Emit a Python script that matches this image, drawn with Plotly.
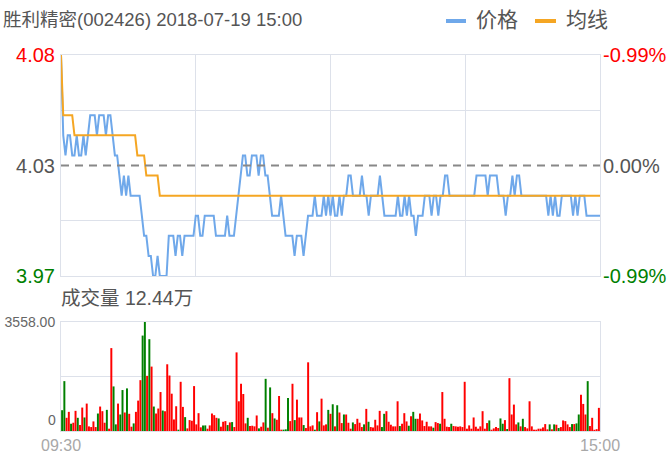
import plotly.graph_objects as go

# ---------------- data ----------------
chart_title = "胜利精密(002426) 2018-07-19 15:00"
volume_title = "成交量 12.44万"
series_names = ["价格", "均线"]
time_labels = ["09:30", "15:00"]

prev_close = 4.025
price_ticks = [3.97, 4.025, 4.08]
price_tick_text = ["3.97", "4.03", "4.08"]
pct_tick_text = ["-0.99%", "0.00%", "-0.99%"]
price_grid = [3.9975, 4.0525]
vol_max = 3558.00

# one value per minute (241 minutes, 09:30-11:30 / 13:00-15:00)
price = [
    4.08, 4.04, 4.03, 4.04, 4.04, 4.03, 4.03, 4.04, 4.03, 4.03,
    4.04, 4.03, 4.04, 4.05, 4.05, 4.05, 4.04, 4.05, 4.05, 4.05,
    4.04, 4.05, 4.05, 4.04, 4.03, 4.03, 4.02, 4.01, 4.02, 4.01,
    4.02, 4.01, 4.01, 4.01, 4.01, 4.01, 4.00, 3.99, 3.99, 3.98,
    3.98, 3.97, 3.97, 3.98, 3.97, 3.97, 3.97, 3.97, 3.99, 3.99,
    3.99, 3.98, 3.99, 3.99, 3.98, 3.99, 3.99, 3.99, 3.99, 3.99,
    4.00, 4.00, 3.99, 3.99, 4.00, 4.00, 4.00, 4.00, 4.00, 3.99,
    3.99, 3.99, 3.99, 3.99, 4.00, 3.99, 3.99, 3.99, 4.00, 4.01,
    4.02, 4.03, 4.03, 4.02, 4.02, 4.03, 4.03, 4.03, 4.02, 4.03,
    4.03, 4.02, 4.02, 4.01, 4.00, 4.00, 4.00, 4.00, 4.01, 4.00,
    3.99, 3.99, 3.99, 3.99, 3.98, 3.99, 3.99, 3.99, 3.98, 3.99,
    4.00, 4.00, 4.00, 4.01, 4.00, 4.00, 4.00, 4.01, 4.00, 4.01,
    4.00, 4.01, 4.00, 4.00, 4.01, 4.00, 4.01, 4.01, 4.02, 4.02,
    4.01, 4.01, 4.01, 4.01, 4.02, 4.01, 4.01, 4.00, 4.01, 4.01,
    4.01, 4.01, 4.02, 4.01, 4.00, 4.00, 4.00, 4.00, 4.00, 4.00,
    4.01, 4.00, 4.00, 4.01, 4.00, 4.01, 4.00, 4.00, 3.99, 4.00,
    4.00, 4.00, 4.01, 4.01, 4.01, 4.00, 4.01, 4.01, 4.00, 4.01,
    4.01, 4.02, 4.02, 4.01, 4.01, 4.01, 4.01, 4.01, 4.01, 4.01,
    4.01, 4.01, 4.01, 4.01, 4.01, 4.02, 4.02, 4.02, 4.02, 4.02,
    4.01, 4.02, 4.02, 4.02, 4.02, 4.01, 4.01, 4.01, 4.00, 4.01,
    4.01, 4.02, 4.01, 4.02, 4.02, 4.01, 4.01, 4.01, 4.01, 4.01,
    4.01, 4.01, 4.01, 4.01, 4.01, 4.01, 4.01, 4.00, 4.01, 4.00,
    4.01, 4.00, 4.00, 4.01, 4.01, 4.01, 4.01, 4.01, 4.00, 4.01,
    4.00, 4.01, 4.01, 4.01, 4.00, 4.00, 4.00, 4.00, 4.00, 4.00,
    4.00,
]

avg_price = [
    4.08, 4.05, 4.05, 4.05, 4.05, 4.05, 4.04, 4.04, 4.04, 4.04,
    4.04, 4.04, 4.04, 4.04, 4.04, 4.04, 4.04, 4.04, 4.04, 4.04,
    4.04, 4.04, 4.04, 4.04, 4.04, 4.04, 4.04, 4.04, 4.04, 4.04,
    4.04, 4.04, 4.04, 4.04, 4.03, 4.03, 4.03, 4.03, 4.02, 4.02,
    4.02, 4.02, 4.02, 4.02, 4.01, 4.01, 4.01, 4.01, 4.01, 4.01,
    4.01, 4.01, 4.01, 4.01, 4.01, 4.01, 4.01, 4.01, 4.01, 4.01,
    4.01, 4.01, 4.01, 4.01, 4.01, 4.01, 4.01, 4.01, 4.01, 4.01,
    4.01, 4.01, 4.01, 4.01, 4.01, 4.01, 4.01, 4.01, 4.01, 4.01,
    4.01, 4.01, 4.01, 4.01, 4.01, 4.01, 4.01, 4.01, 4.01, 4.01,
    4.01, 4.01, 4.01, 4.01, 4.01, 4.01, 4.01, 4.01, 4.01, 4.01,
    4.01, 4.01, 4.01, 4.01, 4.01, 4.01, 4.01, 4.01, 4.01, 4.01,
    4.01, 4.01, 4.01, 4.01, 4.01, 4.01, 4.01, 4.01, 4.01, 4.01,
    4.01, 4.01, 4.01, 4.01, 4.01, 4.01, 4.01, 4.01, 4.01, 4.01,
    4.01, 4.01, 4.01, 4.01, 4.01, 4.01, 4.01, 4.01, 4.01, 4.01,
    4.01, 4.01, 4.01, 4.01, 4.01, 4.01, 4.01, 4.01, 4.01, 4.01,
    4.01, 4.01, 4.01, 4.01, 4.01, 4.01, 4.01, 4.01, 4.01, 4.01,
    4.01, 4.01, 4.01, 4.01, 4.01, 4.01, 4.01, 4.01, 4.01, 4.01,
    4.01, 4.01, 4.01, 4.01, 4.01, 4.01, 4.01, 4.01, 4.01, 4.01,
    4.01, 4.01, 4.01, 4.01, 4.01, 4.01, 4.01, 4.01, 4.01, 4.01,
    4.01, 4.01, 4.01, 4.01, 4.01, 4.01, 4.01, 4.01, 4.01, 4.01,
    4.01, 4.01, 4.01, 4.01, 4.01, 4.01, 4.01, 4.01, 4.01, 4.01,
    4.01, 4.01, 4.01, 4.01, 4.01, 4.01, 4.01, 4.01, 4.01, 4.01,
    4.01, 4.01, 4.01, 4.01, 4.01, 4.01, 4.01, 4.01, 4.01, 4.01,
    4.01, 4.01, 4.01, 4.01, 4.01, 4.01, 4.01, 4.01, 4.01, 4.01,
    4.01,
]

volume = [
    679, 1628, 431, 625, 237, 270, 658, 431, 194, 765,
    442, 895, 150, 129, 313, 129, 571, 798, 647, 270,
    690, 75, 2706, 1455, 216, 895, 539, 1337, 604, 1391,
    561, 140, 248, 625, 992, 1660, 3115, 3558, 1800, 2997,
    2102, 798, 571, 733, 1272, 668, 647, 2178, 1811, 1218,
    377, 808, 43, 1606, 787, 453, 86, 356, 334, 1466,
    216, 582, 120, 183, 183, 75, 183, 571, 517, 431,
    410, 140, 302, 323, 194, 280, 291, 129, 2566, 970,
    1542, 1207, 248, 431, 162, 172, 151, 507, 86, 140,
    280, 1703, 108, 1423, 582, 410, 367, 1143, 43, 43,
    54, 1078, 323, 1542, 356, 1024, 442, 442, 194, 97,
    2242, 151, 183, 43, 614, 313, 1056, 183, 216, 690,
    561, 873, 151, 841, 604, 259, 539, 539, 270, 75,
    280, 226, 399, 270, 129, 216, 722, 302, 129, 118,
    367, 183, 658, 129, 561, 647, 302, 205, 151, 151,
    970, 162, 237, 582, 313, 172, 485, 625, 399, 399,
    571, 345, 162, 302, 151, 151, 108, 291, 259, 237,
    1272, 399, 140, 129, 237, 162, 151, 140, 151, 129,
    1606, 75, 183, 75, 442, 140, 75, 151, 647, 75,
    259, 345, 43, 86, 129, 97, 410, 237, 356, 65,
    1725, 539, 862, 216, 280, 151, 399, 129, 86, 970,
    151, 43, 43, 75, 75, 118, 226, 54, 216, 54,
    216, 205, 97, 129, 345, 323, 216, 129, 226, 226,
    248, 539, 1186, 884, 539, 1628, 162, 431, 40, 60,
    755,
]

# 1 = up minute (red), -1 = down minute (green)
vol_dir = [
    -1, -1, 1, 1, -1, 1, 1, -1, 1, 1,
    -1, 1, 1, 1, 1, 1, -1, 1, 1, 1,
    -1, 1, 1, -1, -1, 1, -1, -1, 1, -1,
    1, 1, -1, 1, 1, 1, -1, -1, 1, -1,
    1, -1, 1, 1, 1, -1, 1, 1, 1, 1,
    1, 1, -1, 1, 1, -1, 1, 1, 1, 1,
    1, 1, 1, -1, -1, 1, 1, 1, 1, 1,
    -1, 1, 1, 1, -1, 1, -1, 1, 1, 1,
    1, 1, 1, -1, 1, 1, 1, 1, -1, 1,
    1, -1, 1, -1, 1, -1, 1, 1, 1, -1,
    -1, -1, 1, 1, -1, 1, 1, 1, -1, 1,
    1, 1, 1, -1, 1, -1, 1, 1, 1, -1,
    1, -1, 1, -1, 1, 1, -1, 1, 1, 1,
    -1, 1, 1, 1, 1, -1, 1, -1, 1, 1,
    1, 1, 1, -1, -1, 1, 1, 1, 1, 1,
    1, -1, 1, 1, 1, -1, 1, -1, -1, 1,
    1, 1, 1, 1, 1, 1, -1, 1, 1, -1,
    1, 1, 1, 1, -1, 1, 1, 1, 1, 1,
    1, 1, 1, 1, 1, 1, 1, 1, 1, 1,
    1, -1, 1, 1, 1, 1, -1, -1, 1, -1,
    1, 1, 1, 1, -1, 1, -1, 1, 1, 1,
    1, 1, 1, 1, 1, 1, 1, 1, -1, 1,
    -1, 1, -1, 1, 1, 1, 1, 1, -1, 1,
    -1, -1, 1, 1, 1, -1, 1, 1, 1, 1,
    1,
]

# ---------------- styles ----------------
W, H = 670, 458
FONT = "Liberation Sans, Arial, Noto Sans CJK SC, sans-serif"
GRID = "#dde1ea"
TEXT = "#555555"
BLUE = "#6fa8ea"
ORANGE = "#f5a623"
RED = "#ff0000"
GREEN = "#008000"


def fx(p):
    return p / W


def fy(p):
    return 1 - p / H


minutes = list(range(len(price)))
x_dom = [fx(61), fx(600)]

fig = go.Figure()
fig.add_trace(go.Scatter(x=minutes, y=price, mode="lines", name=series_names[0],
                         line=dict(color=BLUE, width=2), xaxis="x", yaxis="y",
                         hoverinfo="skip"))
fig.add_trace(go.Scatter(x=minutes, y=avg_price, mode="lines", name=series_names[1],
                         line=dict(color=ORANGE, width=2), xaxis="x", yaxis="y",
                         hoverinfo="skip"))
# invisible companion so the right-hand percentage axis is drawn
fig.add_trace(go.Scatter(x=minutes, y=price, mode="lines", line=dict(width=0),
                         opacity=0, xaxis="x", yaxis="y2", hoverinfo="skip",
                         showlegend=False))
fig.add_trace(go.Bar(x=minutes, y=volume, xaxis="x2", yaxis="y3",
                     marker=dict(color=[RED if d > 0 else GREEN for d in vol_dir],
                                 line=dict(width=0)),
                     hoverinfo="skip"))


def colored(txt, col):
    return f'<span style="color:{col}">{txt}</span>'


label_cols = [GREEN, TEXT, RED]
fig.update_layout(
    width=W, height=H,
    margin=dict(l=0, r=0, t=0, b=0),
    paper_bgcolor="white", plot_bgcolor="white",
    showlegend=False, bargap=0.12,
    font=dict(family=FONT, color=TEXT),
    xaxis=dict(domain=x_dom, range=[0, len(price) - 1], anchor="y",
               tickvals=[0, 60, 120, 180, 240], showticklabels=False, ticks="",
               showgrid=True, gridcolor=GRID, gridwidth=1, zeroline=False,
               showline=True, mirror=True, linecolor=GRID, linewidth=1,
               fixedrange=True),
    yaxis=dict(domain=[fy(276), fy(55)], range=[price_ticks[0], price_ticks[-1]],
               anchor="x", tickvals=price_ticks,
               ticktext=[colored(t, c) for t, c in zip(price_tick_text, label_cols)],
               ticks="", ticklabelstandoff=1, tickfont=dict(size=20),
               showgrid=False, zeroline=False,
               minor=dict(tickmode="array", tickvals=price_grid, showgrid=True,
                          gridcolor=GRID, gridwidth=1, ticks=""),
               showline=True, mirror=True, linecolor=GRID, linewidth=1,
               fixedrange=True, automargin=False),
    yaxis2=dict(overlaying="y", side="right", anchor="x",
                range=[price_ticks[0], price_ticks[-1]], tickvals=price_ticks,
                ticktext=[colored(t, c) for t, c in zip(pct_tick_text, label_cols)],
                ticks="", ticklabelstandoff=2, tickfont=dict(size=20),
                showgrid=False, zeroline=False, showline=False,
                fixedrange=True, automargin=False),
    xaxis2=dict(domain=x_dom, range=[-0.5, len(price) - 0.5], anchor="y3",
                tickvals=[-0.5, len(price) - 0.5], ticktext=time_labels,
                ticks="", tickfont=dict(size=16, color="#a8a8a8"),
                showgrid=False, zeroline=False,
                showline=True, mirror=True, linecolor=GRID, linewidth=1,
                fixedrange=True, automargin=False),
    yaxis3=dict(domain=[fy(431), fy(322)], range=[0, vol_max], anchor="x2",
                tickvals=[0, vol_max / 2, vol_max], ticktext=["", "", f"{vol_max:.2f}"],
                ticks="", ticklabelstandoff=2, tickfont=dict(size=14, color="#666666"),
                showgrid=True, gridcolor=GRID, gridwidth=1, zeroline=False,
                showline=True, mirror=True, linecolor=GRID, linewidth=1,
                fixedrange=True, automargin=False),
)

# previous close dashed line
fig.add_shape(type="line", xref="x domain", x0=0, x1=1, yref="y",
              y0=prev_close, y1=prev_close,
              line=dict(color="#888888", width=2, dash="8px,6px"))

# "0" label of volume axis
fig.add_annotation(xref="paper", x=fx(58), xanchor="right", yref="y3", y=0,
                   yanchor="bottom", yshift=1, text="0", showarrow=False,
                   font=dict(size=14, color="#666666"))

# titles
fig.add_annotation(xref="paper", yref="paper", x=fx(1), y=fy(20), xanchor="left",
                   yanchor="middle", text=chart_title, showarrow=False,
                   font=dict(size=18.5, color=TEXT))
fig.add_annotation(xref="paper", yref="paper", x=fx(59), y=fy(298), xanchor="left",
                   yanchor="middle", text=volume_title, showarrow=False,
                   font=dict(size=19.5, color=TEXT))

# legend
for (x0, x1, tx), col, name in zip([(446, 466, 474), (535, 556, 564)],
                                   [BLUE, ORANGE], series_names):
    fig.add_shape(type="line", xref="paper", yref="paper", x0=fx(x0), x1=fx(x1),
                  y0=fy(21), y1=fy(21), line=dict(color=col, width=4))
    fig.add_annotation(xref="paper", yref="paper", x=fx(tx), y=fy(20), xanchor="left",
                       yanchor="middle", text=name, showarrow=False,
                       font=dict(size=21, color=TEXT))

# remove the page's default body margin so the figure sits at the window's corner
fig.write_html("out.html", config={"displayModeBar": False, "staticPlot": True},
               post_script="document.body.style.margin='0';")
